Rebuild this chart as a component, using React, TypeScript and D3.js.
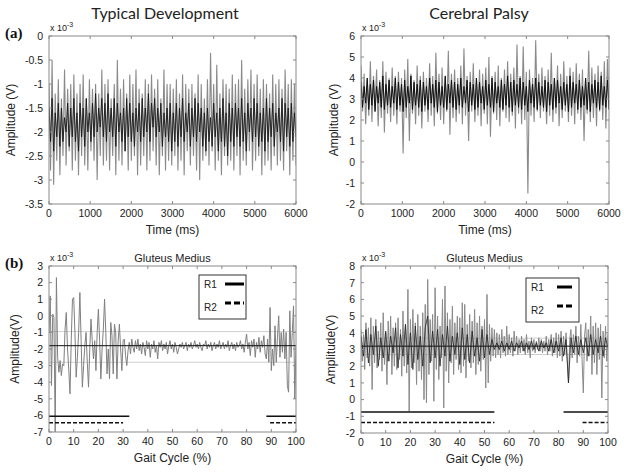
import React from 'react';
import * as d3 from 'd3';

// ---------- tick labels ----------
const TIME_TICKS = [0, 1000, 2000, 3000, 4000, 5000, 6000];
const GAIT_TICKS = [0, 10, 20, 30, 40, 50, 60, 70, 80, 90, 100];
const TL_Y_TICKS = [0, -0.5, -1, -1.5, -2, -2.5, -3, -3.5];
const TR_Y_TICKS = [6, 5, 4, 3, 2, 1, 0, -1, -2];
const BL_Y_TICKS = [3, 2, 1, 0, -1, -2, -3, -4, -5, -6, -7];
const BR_Y_TICKS = [8, 7, 6, 5, 4, 3, 2, 1, 0, -1, -2];

// ---------- series (units of 1e-3 V) ----------
// (a) Typical development, raw EMG over 0..6000 ms
const TL_GRAY = [
  -1.0,-2.8,-0.5,-3.1,-1.2,-2.6,-0.9,-2.9,-1.3,-2.5,-0.7,-2.7,-1.1,-2.4,-1.0,-2.8,-0.8,-2.6,-1.2,-2.9,
  -1.0,-2.5,-0.8,-2.7,-1.3,-2.8,-0.9,-2.4,-1.1,-2.6,-1.0,-3.0,-1.2,-2.5,-0.7,-2.7,-1.0,-2.6,-0.9,-2.8,
  -1.3,-2.5,-1.0,-2.9,-0.5,-2.6,-1.1,-2.7,-0.9,-2.4,-1.2,-2.8,-0.8,-2.6,-1.0,-2.5,-0.7,-2.9,-1.1,-2.7,
  -1.2,-2.5,-0.9,-2.8,-1.0,-2.6,-0.8,-2.4,-1.1,-2.7,-0.9,-2.9,-1.3,-2.5,-0.7,-2.8,-1.0,-2.6,-1.0,-2.7,
  -1.1,-2.5,-0.9,-2.8,-1.2,-2.6,-0.8,-2.9,-1.0,-2.4,-1.1,-2.7,-1.0,-2.5,-1.2,-2.8,-0.8,-3.0,-1.0,-2.6,
  -1.3,-2.5,-0.9,-2.7,-0.35,-2.4,-1.0,-2.8,-0.6,-2.6,-1.2,-2.9,-0.9,-2.5,-1.0,-2.7,-1.1,-2.6,-0.8,-2.8,
  -1.0,-2.5,-0.9,-2.9,-0.5,-2.6,-1.1,-2.7,-0.9,-2.4,-0.7,-2.8,-1.0,-2.6,-0.8,-2.5,-1.1,-2.9,-0.9,-2.7,
  -1.0,-2.6,-1.2,-2.8,-0.8,-2.5,-1.0,-2.7,-0.9,-2.6,-1.1,-2.8,-0.7,-2.4,-1.0,-2.9,-0.9,-2.6,-1.0,-2.7,
];
const TL_BLACK = [
  -1.5,-2.2,-1.3,-2.4,-1.6,-2.1,-1.4,-2.3,-1.5,-2.2,-1.7,-2.0,-1.4,-2.3,-1.5,-2.1,-1.3,-2.2,-1.6,-2.4,
  -1.4,-2.1,-1.5,-2.3,-1.3,-2.0,-1.6,-2.2,-1.4,-2.1,-1.2,-2.0,-1.5,-1.9,-1.3,-2.1,-1.4,-2.2,-1.2,-2.0,
  -1.5,-2.1,-1.3,-2.3,-1.4,-2.0,-1.6,-2.2,-1.5,-2.4,-1.3,-2.1,-1.4,-2.2,-1.6,-2.3,-1.5,-2.0,-1.4,-2.2,
  -1.3,-2.1,-1.5,-2.0,-1.2,-2.2,-1.4,-1.9,-1.3,-2.1,-1.5,-2.0,-1.4,-2.3,-1.6,-2.1,-1.5,-2.2,-1.4,-2.4,
  -1.6,-2.2,-1.4,-2.3,-1.5,-2.1,-1.3,-2.2,-1.6,-2.0,-1.4,-2.3,-1.5,-2.1,-1.3,-2.2,-1.4,-2.0,-1.5,-2.3,
  -1.6,-2.4,-1.5,-2.2,-1.7,-2.3,-1.4,-2.1,-1.6,-2.4,-1.5,-2.2,-1.3,-2.3,-1.6,-2.5,-1.4,-2.2,-1.5,-2.3,
  -1.4,-2.1,-1.5,-2.3,-1.3,-2.2,-1.6,-2.4,-1.4,-2.0,-1.5,-2.2,-1.3,-2.1,-1.4,-2.3,-1.6,-2.2,-1.5,-2.4,
  -1.3,-2.2,-1.5,-2.1,-1.4,-2.3,-1.6,-2.0,-1.5,-2.2,-1.3,-2.4,-1.4,-2.1,-1.5,-2.3,-1.4,-2.2,-1.6,-2.1,
];
// (a) Cerebral palsy
const TR_GRAY = [
  4.6,2.4,4.2,1.8,3.9,2.2,4.8,1.9,4.1,2.5,4.4,1.7,3.9,2.1,4.8,1.4,4.3,2.3,4.0,1.9,
  4.5,2.2,4.1,1.8,4.3,2.4,4.0,0.4,4.4,2.1,4.9,1.0,4.2,2.3,3.9,1.8,4.6,2.2,4.1,1.6,
  4.3,2.4,4.0,1.9,4.7,2.2,4.1,1.7,5.2,2.3,4.2,2.0,4.5,1.8,4.0,2.4,5.3,1.3,4.2,2.1,
  4.4,1.9,4.0,2.3,4.6,1.8,5.4,2.2,4.1,1.0,4.3,2.4,4.7,1.9,4.0,2.2,4.4,1.7,4.2,2.3,
  4.5,1.8,5.0,1.2,4.1,2.3,4.3,2.0,4.6,1.7,4.0,2.4,4.4,2.1,4.8,1.9,4.2,2.2,4.5,1.6,
  5.6,2.3,4.1,1.8,5.5,2.0,4.3,-1.5,4.4,2.2,4.0,1.9,5.8,2.4,4.2,2.1,4.5,2.4,4.1,1.8,
  4.4,2.2,5.2,1.9,4.0,2.3,4.6,1.7,4.2,2.1,4.8,2.4,4.1,1.9,4.5,2.2,4.3,1.8,4.7,2.3,
  4.2,2.0,4.4,1.0,4.0,2.3,5.3,1.9,4.5,2.1,4.2,1.7,4.6,2.4,4.3,2.0,4.8,1.6,4.9,2.5,
];
const TR_BLACK = [
  3.8,2.6,3.6,2.8,4.0,2.5,3.7,2.7,3.9,2.4,3.6,2.8,3.8,2.6,4.1,2.5,3.7,2.7,3.9,2.6,
  3.6,2.8,4.0,2.5,3.8,2.7,3.7,2.4,3.9,2.6,3.6,2.8,4.1,2.5,3.8,2.7,3.7,2.6,3.9,2.4,
  3.8,2.7,3.6,2.5,4.0,2.8,3.7,2.6,3.9,2.4,3.8,2.7,3.6,2.6,4.1,2.5,3.7,2.8,3.9,2.6,
  3.8,2.5,3.7,2.7,4.0,2.6,3.6,2.8,3.9,2.4,3.8,2.7,3.7,2.5,4.0,2.6,3.8,2.8,3.6,2.5,
  3.9,2.7,3.7,2.6,4.0,2.4,3.8,2.8,3.6,2.6,3.9,2.5,3.7,2.7,4.1,2.6,3.8,2.4,3.9,2.7,
  3.7,2.6,4.0,2.5,3.8,2.7,3.6,2.4,3.9,2.8,3.7,2.6,4.0,2.5,3.8,2.7,3.6,2.6,3.9,2.4,
  3.8,2.7,3.7,2.5,4.0,2.6,3.9,2.8,3.6,2.5,3.8,2.7,3.7,2.4,4.1,2.6,3.8,2.8,3.7,2.5,
  3.9,2.6,3.6,2.7,4.0,2.5,3.8,2.4,3.7,2.8,3.9,2.6,3.8,2.5,4.1,2.7,3.6,2.6,3.9,2.5,
];
// (b) Gluteus medius over the gait cycle, sampled every 0.5 %
const BL_SIGNAL = [
  -1.0,1.2,-4.2,0.1,-0.1,-7.0,2.3,-2.5,-3.4,-2.7,
  -3.6,-2.9,-3.0,-0.8,0.2,-2.0,-3.2,-4.7,-1.5,1.0,
  1.1,-1.0,-3.7,-2.5,-1.0,1.4,-1.5,-4.3,-3.0,-1.8,
  -1.0,-2.8,-4.3,-2.0,-0.2,-1.5,-2.6,-1.5,-3.3,-1.0,
  0.4,-1.5,-3.8,-2.0,-0.8,1.0,-1.0,-3.5,-2.0,-3.8,
  -0.4,-1.2,-3.5,-0.5,-1.0,-3.8,-1.5,-0.5,-2.0,-3.3,
  -1.5,-1.4,-2.4,-3.0,-2.1,-1.6,-2.3,-1.4,-1.9,-2.2,
  -1.5,-2.0,-1.4,-2.1,-1.7,-2.3,-1.6,-1.9,-2.4,-1.5,
  -2.0,-1.6,-2.5,-1.7,-2.0,-1.5,-2.2,-1.8,-2.6,-1.6,
  -1.9,-1.5,-2.1,-1.7,-2.0,-1.6,-2.3,-1.8,-1.5,-2.0,
  -1.7,-2.2,-1.6,-1.9,-2.3,-2.0,-1.7,-1.9,-1.6,-2.0,
  -1.8,-1.6,-2.1,-1.7,-1.9,-1.6,-2.0,-1.8,-1.5,-1.9,
  -1.7,-2.0,-1.6,-1.9,-2.1,-1.7,-1.8,-1.5,-2.0,-1.7,
  -1.9,-1.6,-2.1,-1.8,-1.6,-2.0,-1.7,-1.9,-1.5,-2.0,
  -1.8,-1.6,-2.0,-1.7,-1.9,-1.5,-2.1,-1.8,-1.6,-2.0,
  -1.7,-2.1,-1.6,-1.9,-1.8,-1.5,-2.0,-1.7,-2.2,-1.6,
  -1.1,-2.0,-1.6,-2.4,-1.5,-1.9,-1.4,-2.5,-1.6,-2.0,
  -1.3,-2.2,-1.5,-1.9,-1.2,-2.3,
  -2.6,-1.4,-2.8,0.5,-3.3,-2.0,-3.0,-0.6,-2.8,-1.3,
  0.0,-2.5,-1.0,-2.2,-0.8,-2.6,-1.0,-4.2,-4.6,0.3,
  -2.5,-1.0,0.6,-5.0,-1.8,
];
const BR_GRAY = [
  4.2,2.3,3.9,1.8,4.6,2.5,4.3,2.0,4.9,0.6,
  4.4,2.2,4.8,1.9,4.1,2.4,4.6,1.7,5.2,2.1,
  4.0,0.9,4.7,2.3,5.0,1.5,4.3,2.0,4.6,1.8,
  4.9,2.4,4.2,1.4,5.3,2.0,4.5,1.6,6.6,-0.7,
  4.8,1.9,5.4,2.2,4.6,0.9,5.1,1.7,4.4,1.2,
  5.2,0.0,5.7,-0.2,7.2,1.5,4.8,2.3,5.1,-0.1,
  6.7,1.8,5.0,1.2,4.4,2.5,6.0,-0.5,6.8,1.7,
  5.2,1.0,4.8,2.2,5.6,1.5,4.6,2.4,5.0,1.8,
  4.9,1.6,5.8,2.0,5.7,1.3,4.5,2.3,5.1,1.9,
  4.7,2.2,5.4,1.5,4.6,2.1,5.0,1.7,4.4,2.4,
  4.8,0.7,6.3,1.0,4.5,2.3,4.3,2.6,4.2,2.5,
  4.0,2.7,3.9,2.5,4.2,2.8,3.8,2.6,4.4,2.7,
  3.9,2.8,3.7,2.6,4.1,2.9,3.8,2.7,3.6,2.8,
  3.8,2.9,3.6,2.7,3.9,2.8,3.5,2.5,3.7,2.9,
  3.6,2.8,3.5,3.0,3.7,2.9,3.6,2.8,3.5,2.9,
  3.8,2.7,3.6,2.9,3.9,2.6,3.7,2.8,4.0,2.5,
  3.9,2.6,4.1,2.3,3.8,2.7,4.0,2.4,1.0,3.6,
  4.2,2.5,3.9,2.7,4.4,2.2,3.8,2.6,4.5,2.4,
  0.4,3.8,4.6,2.3,4.2,2.6,5.0,1.5,4.4,2.2,
  4.6,1.5,4.3,2.4,4.5,0.1,4.1,2.5,4.4,2.3,
  3.9,
];
// darker core, sampled every 1 %
const BR_BLACK = [
  3.8,2.6,4.2,2.2,3.9,2.7,4.4,2.0,3.7,2.5,
  4.1,2.3,3.8,2.8,4.3,1.9,3.9,2.6,4.5,2.1,
  4.0,1.8,4.4,2.4,3.8,2.0,4.3,5.0,2.2,4.1,
  2.5,4.2,2.0,3.9,2.6,4.4,2.3,3.8,2.7,4.0,
  2.1,4.3,2.4,3.9,2.2,4.1,2.6,3.7,2.3,4.2,
  2.5,3.9,2.7,3.6,3.0,3.4,3.0,3.5,2.9,3.4,
  3.0,3.5,2.9,3.4,3.1,3.5,2.9,3.4,3.0,3.5,
  3.0,3.4,2.9,3.5,3.1,3.4,2.9,3.6,2.8,3.5,
  2.9,3.7,2.6,3.6,1.0,3.7,2.8,3.8,2.7,3.6,
  2.8,3.7,2.6,3.9,2.7,3.6,2.8,3.8,2.6,3.7,
  3.1,
];

// reference lines & activation ranges
const BL_MEAN = -1.8;
const BL_BAND = [-0.95, -2.8];
const BL_R1 = [[0, 32.5], [88, 100]];
const BL_R1_LEVEL = -6.05;
const BL_R2 = [[0, 30], [89.5, 100]];
const BL_R2_LEVEL = -6.45;
const BR_MEAN = 3.2;
const BR_BAND = [3.68, 2.7];
const BR_R1 = [[0, 54], [82, 100]];
const BR_R1_LEVEL = -0.74;
const BR_R2 = [[0, 54], [89.7, 100]];
const BR_R2_LEVEL = -1.37;

type Series = { values: number[]; span: number; color: string; width: number };
type Seg = { ranges: number[][]; level: number; dash?: string };

const AX_FONT = 'Liberation Sans, Arial, sans-serif';

function Panel(props: {
  id: string;
  left: number; right: number; top: number; bottom: number;
  xDomain: [number, number]; yDomain: [number, number];
  xTicks: number[]; yTicks: number[];
  series: Series[];
  mean?: number; band?: number[];
  segs?: Seg[];
  xLabel: string; yLabel: string; yLabelX: number;
  title?: string;
}) {
  const { left, right, top, bottom } = props;
  const x = d3.scaleLinear().domain(props.xDomain).range([left, right]);
  const y = d3.scaleLinear().domain(props.yDomain).range([bottom, top]);
  const tick = 3;
  const frame = '#8a8a8a';
  const fmt = (v: number) => String(v);
  return (
    <g>
      <defs>
        <clipPath id={props.id}>
          <rect x={left} y={top} width={right - left} height={bottom - top} />
        </clipPath>
      </defs>
      <g clipPath={`url(#${props.id})`}>
        {props.band && props.band.map((b, i) => (
          <line key={'b' + i} x1={left} x2={right} y1={y(b)} y2={y(b)} stroke="#cfcfcf" strokeWidth={1} />
        ))}
        {props.series.map((s, i) => {
          const n = s.values.length;
          const line = d3.line<number>()
            .x((_, j) => x(props.xDomain[0] + (s.span * j) / (n - 1)))
            .y((v) => y(v));
          return <path key={i} d={line(s.values) || ''} fill="none" stroke={s.color} strokeWidth={s.width} />;
        })}
        {props.mean !== undefined && (
          <line x1={left} x2={right} y1={y(props.mean)} y2={y(props.mean)} stroke="#111" strokeWidth={1} />
        )}
        {props.segs && props.segs.map((sg, i) =>
          sg.ranges.map((r, k) => (
            <line key={i + '-' + k} x1={x(r[0])} x2={x(r[1])} y1={y(sg.level)} y2={y(sg.level)}
              stroke="#111" strokeWidth={1.5} strokeDasharray={sg.dash} />
          ))
        )}
      </g>
      <rect x={left} y={top} width={right - left} height={bottom - top} fill="none" stroke={frame} strokeWidth={1} />
      {props.xTicks.map((t) => (
        <g key={'x' + t}>
          <line x1={x(t)} x2={x(t)} y1={bottom} y2={bottom - tick} stroke={frame} />
          <line x1={x(t)} x2={x(t)} y1={top} y2={top + tick} stroke={frame} />
          <text x={x(t)} y={bottom + 13} textAnchor="middle" fontFamily={AX_FONT} fontSize={10.5} fill="#222">{fmt(t)}</text>
        </g>
      ))}
      {props.yTicks.map((t) => (
        <g key={'y' + t}>
          <line x1={left} x2={left + tick} y1={y(t)} y2={y(t)} stroke={frame} />
          <line x1={right} x2={right - tick} y1={y(t)} y2={y(t)} stroke={frame} />
          <text x={left - 6} y={y(t) + 3.8} textAnchor="end" fontFamily={AX_FONT} fontSize={10.5} fill="#222">{fmt(t)}</text>
        </g>
      ))}
      <text x={left + 1} y={top - 5} fontFamily={AX_FONT} fontSize={9} fill="#222">
        x 10<tspan dy={-4} fontSize={7}>-3</tspan>
      </text>
      <text x={(left + right) / 2} y={bottom + 30} textAnchor="middle" fontFamily={AX_FONT} fontSize={12} fill="#222">{props.xLabel}</text>
      <text transform={`translate(${props.yLabelX},${(top + bottom) / 2}) rotate(-90)`} textAnchor="middle"
        fontFamily={AX_FONT} fontSize={12} fill="#222">{props.yLabel}</text>
      {props.title && (
        <text x={(left + right) / 2} y={top - 4} textAnchor="middle" fontFamily={AX_FONT} fontSize={11} fill="#222">{props.title}</text>
      )}
    </g>
  );
}

function Legend(props: { x: number; y: number; w: number; h: number; lineX1: number; lineX2: number; dash: string }) {
  const { x, y, w, h } = props;
  return (
    <g>
      <rect x={x} y={y} width={w} height={h} fill="#fff" stroke="#333" strokeWidth={1} />
      <text x={x + 5} y={y + 13} fontFamily={AX_FONT} fontSize={10} fill="#222">R1</text>
      <line x1={props.lineX1} x2={props.lineX2} y1={y + 9} y2={y + 9} stroke="#000" strokeWidth={3} />
      <text x={x + 5} y={y + 36} fontFamily={AX_FONT} fontSize={10} fill="#222">R2</text>
      <line x1={props.lineX1} x2={props.lineX2} y1={y + 28} y2={y + 28} stroke="#000" strokeWidth={3} strokeDasharray={props.dash} />
    </g>
  );
}

export default function App() {
  const gray = '#8a8a8a';
  return (
    <svg width={624} height={472} style={{ position: 'absolute', left: 0, top: 0, background: '#fff' }}>
      <rect x={0} y={0} width={624} height={472} fill="#fff" />
      <text x={165} y={19} textAnchor="middle" fontFamily="Lato, Open Sans, sans-serif" fontSize={16} fill="#222">Typical Development</text>
      <text x={479} y={19} textAnchor="middle" fontFamily="Lato, Open Sans, sans-serif" fontSize={16} fill="#222">Cerebral Palsy</text>
      <text x={5} y={38} fontFamily="Liberation Serif, Times New Roman, serif" fontWeight="bold" fontSize={15} fill="#111">(a)</text>
      <text x={5} y={268} fontFamily="Liberation Serif, Times New Roman, serif" fontWeight="bold" fontSize={15} fill="#111">(b)</text>

      <Panel id="c1" left={49} right={296} top={36} bottom={204}
        xDomain={[0, 6000]} yDomain={[-3.5, 0]} xTicks={TIME_TICKS} yTicks={TL_Y_TICKS}
        series={[
          { values: TL_GRAY, span: 6000, color: gray, width: 1.1 },
          { values: TL_BLACK, span: 6000, color: '#1a1a1a', width: 0.9 },
        ]}
        xLabel="Time (ms)" yLabel="Amplitude (V)" yLabelX={15} />
      <Panel id="c2" left={361} right={609} top={36} bottom={204}
        xDomain={[0, 6000]} yDomain={[-2, 6]} xTicks={TIME_TICKS} yTicks={TR_Y_TICKS}
        series={[
          { values: TR_GRAY, span: 6000, color: gray, width: 1.1 },
          { values: TR_BLACK, span: 6000, color: '#111', width: 1 },
        ]}
        xLabel="Time (ms)" yLabel="Amplitude (V)" yLabelX={338} />
      <Panel id="c3" left={49} right={296} top={266} bottom={432}
        xDomain={[0, 100]} yDomain={[-7, 3]} xTicks={GAIT_TICKS} yTicks={BL_Y_TICKS}
        series={[{ values: BL_SIGNAL, span: 100, color: '#808080', width: 1 }]}
        mean={BL_MEAN} band={BL_BAND}
        segs={[
          { ranges: BL_R1, level: BL_R1_LEVEL },
          { ranges: BL_R2, level: BL_R2_LEVEL, dash: '4,2' },
        ]}
        xLabel="Gait Cycle (%)" yLabel="Amplitude(V)" yLabelX={19} title="Gluteus Medius" />
      <Panel id="c4" left={361} right={608} top={266} bottom={433}
        xDomain={[0, 100]} yDomain={[-2, 8]} xTicks={GAIT_TICKS} yTicks={BR_Y_TICKS}
        series={[
          { values: BR_GRAY, span: 100, color: gray, width: 1 },
          { values: BR_BLACK, span: 100, color: '#222', width: 0.8 },
        ]}
        mean={BR_MEAN} band={BR_BAND}
        segs={[
          { ranges: BR_R1, level: BR_R1_LEVEL },
          { ranges: BR_R2, level: BR_R2_LEVEL, dash: '4,2' },
        ]}
        xLabel="Gait Cycle (%)" yLabel="Amplitude(V)" yLabelX={335} title="Gluteus Medius" />
      <Legend x={199} y={275} w={47} h={44} lineX1={225} lineX2={244} dash="6,3" />
      <Legend x={526} y={278} w={53} h={44} lineX1={557} lineX2={572} dash="6,3" />
    </svg>
  );
}
